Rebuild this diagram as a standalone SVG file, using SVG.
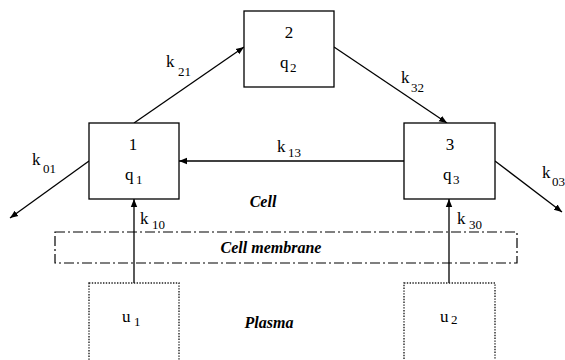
<svg xmlns="http://www.w3.org/2000/svg" width="565" height="360" viewBox="0 0 565 360">
<style>
text{font-family:'Liberation Serif','DejaVu Serif',serif;fill:#000}
.t{font-size:17px}
.s{font-size:13px}
.b{font-size:16px;font-weight:bold;font-style:italic}
.box{fill:#fff;stroke:#000;stroke-width:1.3}
.dot{fill:none;stroke:#222;stroke-width:1.4;stroke-dasharray:1.4 1.4}
.mem{fill:none;stroke:#000;stroke-width:1.2;stroke-dasharray:10 3 2 3}
.c{stroke:#000;stroke-width:1.3;fill:none;marker-end:url(#ah)}
</style>
<defs>
<marker id="ah" viewBox="0 0 10 10" refX="10" refY="5" markerWidth="8" markerHeight="8" markerUnits="userSpaceOnUse" orient="auto">
<path d="M0,1 L10,5 L0,9 Z" fill="#000"/>
</marker>
</defs>
<rect id="membrane" class="mem" x="55" y="232" width="462" height="31"/>
<g id="connectors">
<line class="c" x1="134" y1="123" x2="244" y2="47"/>
<line class="c" x1="334" y1="47" x2="447" y2="123"/>
<line class="c" x1="404" y1="161" x2="179" y2="161"/>
<line class="c" x1="89" y1="161" x2="10" y2="218"/>
<line class="c" x1="495" y1="161" x2="562" y2="212"/>
<line class="c" x1="134" y1="283" x2="134" y2="199"/>
<line class="c" x1="449" y1="283" x2="449" y2="199"/>
<text class="t" x="166" y="67">k</text><text class="s" x="178" y="76">21</text>
<text class="t" x="401" y="83">k</text><text class="s" x="411" y="92">32</text>
<text class="t" x="277" y="152">k</text><text class="s" x="288" y="157">13</text>
<text class="t" x="32" y="165">k</text><text class="s" x="43" y="173">01</text>
<text class="t" x="542" y="178">k</text><text class="s" x="552" y="186">03</text>
<text class="t" x="140" y="224">k</text><text class="s" x="152" y="229">10</text>
<text class="t" x="457" y="224">k</text><text class="s" x="469" y="229">30</text>
</g>
<g id="n1">
<rect class="box" x="89" y="123" width="90" height="76"/>
<text class="t" x="133" y="150" text-anchor="middle">1</text>
<text class="t" x="125" y="180">q</text><text class="s" x="136" y="184">1</text>
</g>
<g id="n2">
<rect class="box" x="244" y="11" width="90" height="76"/>
<text class="t" x="289" y="38" text-anchor="middle">2</text>
<text class="t" x="280" y="68">q</text><text class="s" x="290" y="72">2</text>
</g>
<g id="n3">
<rect class="box" x="404" y="123" width="91" height="76"/>
<text class="t" x="450" y="150" text-anchor="middle">3</text>
<text class="t" x="443" y="180">q</text><text class="s" x="453" y="184">3</text>
</g>
<g id="u1">
<rect class="dot" x="89" y="283" width="90" height="80"/>
<text class="t" x="122" y="322">u</text><text class="s" x="134" y="326">1</text>
</g>
<g id="u2">
<rect class="dot" x="404" y="283" width="91" height="80"/>
<text class="t" x="440" y="322">u</text><text class="s" x="451" y="324">2</text>
</g>
<text class="b" x="263" y="207" text-anchor="middle">Cell</text>
<text class="b" x="271" y="253" text-anchor="middle">Cell membrane</text>
<text class="b" x="269" y="328" text-anchor="middle">Plasma</text>
</svg>
